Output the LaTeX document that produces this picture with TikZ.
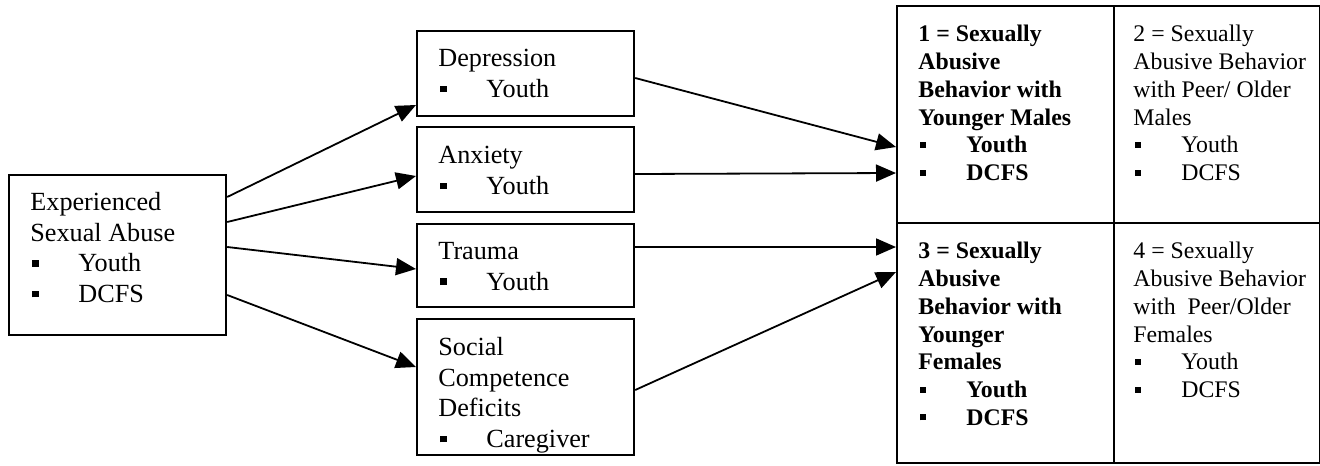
\documentclass[tikz,border=0pt]{standalone}
\usepackage{fontspec}
\setmainfont{Liberation Serif}
\usetikzlibrary{arrows.meta}
\newcommand{\bitem}[1]{\makebox[24pt][l]{\hspace{1pt}\rule[0.2em]{0.25em}{0.25em}}#1}
\tikzset{
	boxnode/.style={draw, line width=1.1pt, inner sep=0pt, anchor=north west},
	midtext/.style={anchor=north west, inner sep=0pt, align=left, font=\fontsize{13.1}{15.35}\selectfont},
	celltext/.style={anchor=north west, inner sep=0pt, align=left, font=\fontsize{11.9}{13.85}\selectfont},
	arr/.style={-{Triangle[length=10pt,width=8.5pt]}, line width=0.9pt}
}
\begin{document}
\begin{tikzpicture}[x=0.5pt,y=-0.5pt]
		\useasboundingbox (0,0) rectangle (1320,465);
		\node[boxnode, minimum width=108.5pt, minimum height=80pt] (esa) at (8,174) {};
		\node[boxnode, minimum width=108.5pt, minimum height=42.5pt] (dep) at (416,30) {};
		\node[boxnode, minimum width=108.5pt, minimum height=42.5pt] (anx) at (416,126) {};
		\node[boxnode, minimum width=108.5pt, minimum height=41.5pt] (tra) at (416,223) {};
		\node[boxnode, minimum width=108.5pt, minimum height=68pt] (soc) at (416,318) {};
		\node[boxnode, minimum width=108.5pt, minimum height=108.5pt] (c1) at (896,5) {};
		\node[boxnode, minimum width=102.75pt, minimum height=108.5pt] (c2) at (1113,5) {};
		\node[boxnode, minimum width=108.5pt, minimum height=120pt] (c3) at (896,222) {};
		\node[boxnode, minimum width=102.75pt, minimum height=120pt] (c4) at (1113,222) {};
		
		\node[midtext] (esa-t) at ([shift={(22,18)}]esa.north west) {Experienced\\Sexual Abuse\\\bitem{Youth}\\\bitem{DCFS}};
		\node[midtext] (dep-t) at ([shift={(22,19)}]dep.north west) {Depression\\\bitem{Youth}};
		\node[midtext] (anx-t) at ([shift={(22,20)}]anx.north west) {Anxiety\\\bitem{Youth}};
		\node[midtext] (tra-t) at ([shift={(22,19)}]tra.north west) {Trauma\\\bitem{Youth}};
		\node[midtext] (soc-t) at ([shift={(22,19)}]soc.north west) {Social\\Competence\\Deficits\\\bitem{Caregiver}};
		\node[celltext, font=\fontsize{11.9}{13.85}\selectfont\bfseries] (c1-t) at ([shift={(22,20)}]c1.north west) {1 = Sexually\\Abusive\\Behavior with\\Younger Males\\\bitem{Youth}\\\bitem{DCFS}};
		\node[celltext] (c2-t) at ([shift={(20,20)}]c2.north west) {2 = Sexually\\Abusive Behavior\\with Peer/ Older\\Males\\\bitem{Youth}\\\bitem{DCFS}};
		\node[celltext, font=\fontsize{11.9}{13.85}\selectfont\bfseries] (c3-t) at ([shift={(22,20)}]c3.north west) {3 = Sexually\\Abusive\\Behavior with\\Younger\\Females\\\bitem{Youth}\\\bitem{DCFS}};
		\node[celltext] (c4-t) at ([shift={(20,20)}]c4.north west) {4 = Sexually\\Abusive Behavior\\with\ \ Peer/Older\\Females\\\bitem{Youth}\\\bitem{DCFS}};
		
		\draw[arr] (esa.east |- 0,197) -- (dep.west |- 0,105);
		\draw[arr] (esa.east |- 0,222) -- (anx.west |- 0,176);
		\draw[arr] (esa.east |- 0,247) -- (tra.west |- 0,269);
		\draw[arr] (esa.east |- 0,295) -- (soc.west |- 0,367);
		\draw[arr] (dep.east |- 0,78) -- (c1.west |- 0,147);
		\draw[arr] (anx.east |- 0,174) -- (c1.west |- 0,173);
		\draw[arr] (tra.east |- 0,247) -- (c3.west |- 0,247);
		\draw[arr] (soc.east |- 0,390) -- (c3.west |- 0,272);
	\end{tikzpicture}
\end{document}
